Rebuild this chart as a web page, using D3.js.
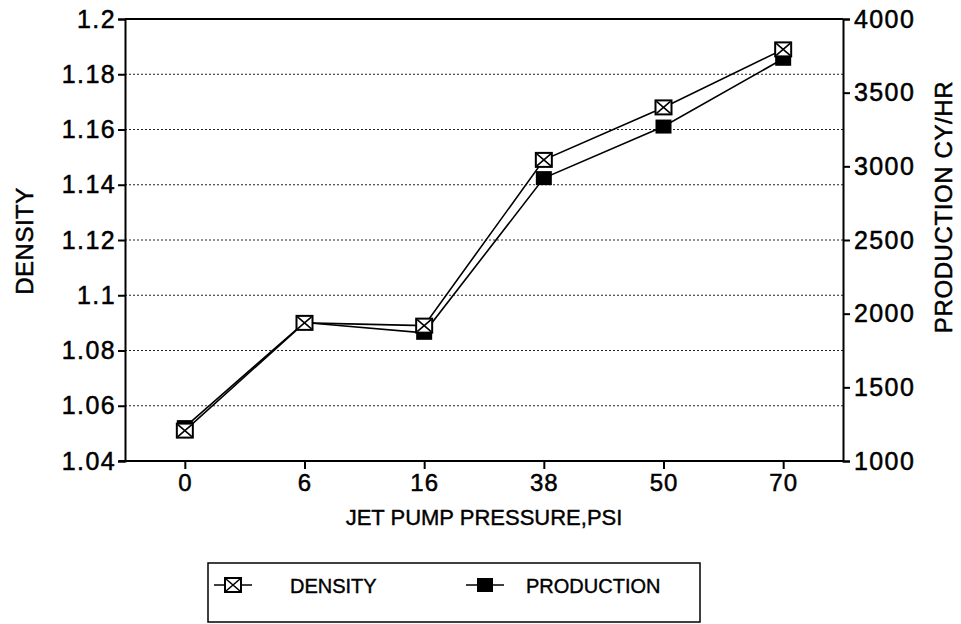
<!DOCTYPE html>
<html><head><meta charset="utf-8">
<script src="https://cdn.jsdelivr.net/npm/d3@7"></script>
<style>body{margin:0;background:#fff} text{font-family:"Liberation Sans",Arial,sans-serif;fill:#000}</style>
</head><body><svg id="c" width="961" height="624"></svg>
<script>
const categories = ["0","6","16","38","50","70"];
const density = [1.051, 1.090, 1.089, 1.149, 1.168, 1.189];
const production = [1230, 1940, 1870, 2920, 3270, 3730];
const densityTicks = [1.04,1.06,1.08,1.1,1.12,1.14,1.16,1.18,1.2];
const productionTicks = [1000,1500,2000,2500,3000,3500,4000];
const legendLabels = ["DENSITY","PRODUCTION"];

const svg = d3.select("#c");
const L=125, R=843, T=19, B=461;
const x = d3.scalePoint().domain(categories).range([L,R]).padding(0.5);
const yD = d3.scaleLinear().domain([1.04,1.2]).range([B,T]);
const yP = d3.scaleLinear().domain([1000,4000]).range([B,T]);

// gridlines
svg.append("g").selectAll("line").data(densityTicks.slice(1,-1)).join("line")
  .attr("x1",L).attr("x2",R).attr("y1",d=>yD(d)).attr("y2",d=>yD(d))
  .attr("stroke","#222").attr("stroke-width",1).attr("stroke-dasharray","2,2");
// top border
svg.append("line").attr("x1",L).attr("x2",R).attr("y1",T).attr("y2",T).attr("stroke","#000").attr("stroke-width",2);

const ax = svg.append("g").attr("transform",`translate(${L},0)`)
  .call(d3.axisLeft(yD).tickValues(densityTicks).tickFormat(d=>String(d)).tickSizeOuter(0).tickSize(7).tickPadding(2));
const ax2 = svg.append("g").attr("transform",`translate(${R},0)`)
  .call(d3.axisRight(yP).tickValues(productionTicks).tickFormat(d=>String(d)).tickSizeOuter(0).tickSize(7).tickPadding(4));
const ax3 = svg.append("g").attr("transform",`translate(0,${B})`)
  .call(d3.axisBottom(x).tickSizeOuter(0).tickSize(8).tickPadding(5));
[ax,ax2,ax3].forEach(g=>{
  g.select(".domain").attr("stroke","#000").attr("stroke-width",2);
  g.selectAll(".tick line").attr("stroke","#000").attr("stroke-width",2);
  g.selectAll("text").attr("font-size",25).attr("letter-spacing","1.4px").attr("font-family","Liberation Sans, Arial, sans-serif")
    .attr("fill","#000").attr("stroke","#000").attr("stroke-width",0.5);
});
ax3.selectAll("text").attr("font-size",24).attr("letter-spacing","1px");
ax3.select(".domain").attr("d",`M${L-6},0H${R}`);

// axis titles
svg.append("text").attr("transform",`translate(33,${241}) rotate(-90)`).attr("text-anchor","middle")
  .attr("font-size",24).attr("letter-spacing","0.5px").attr("stroke","#000").attr("stroke-width",0.5).text("DENSITY");
svg.append("text").attr("transform",`translate(952,${207}) rotate(-90)`).attr("text-anchor","middle")
  .attr("font-size",24).attr("letter-spacing","0.6px").attr("stroke","#000").attr("stroke-width",0.5).text("PRODUCTION CY/HR");
svg.append("text").attr("x",(L+R)/2).attr("y",525).attr("text-anchor","middle")
  .attr("font-size",22).attr("stroke","#000").attr("stroke-width",0.4).text("JET PUMP PRESSURE,PSI");

// lines
const lineD = d3.line().x((d,i)=>x(categories[i])).y(d=>yD(d));
const lineP = d3.line().x((d,i)=>x(categories[i])).y(d=>yP(d));
svg.append("path").attr("d",lineP(production)).attr("fill","none").attr("stroke","#000").attr("stroke-width",1.6);
svg.append("path").attr("d",lineD(density)).attr("fill","none").attr("stroke","#000").attr("stroke-width",1.6);

function filledMarker(g, cx, cy){
  g.append("rect").attr("x",cx-8).attr("y",cy-7).attr("width",16).attr("height",14).attr("fill","#000");
}
function crossMarker(g, cx, cy){
  g.append("rect").attr("x",cx-8).attr("y",cy-7).attr("width",16).attr("height",14).attr("fill","#fff").attr("stroke","#000").attr("stroke-width",2);
  g.append("path").attr("d",`M${cx-7},${cy-6}L${cx+7},${cy+6}M${cx+7},${cy-6}L${cx-7},${cy+6}`).attr("stroke","#000").attr("stroke-width",1.6);
}
const mg = svg.append("g");
production.forEach((v,i)=>filledMarker(mg, x(categories[i]), yP(v)));
density.forEach((v,i)=>crossMarker(mg, x(categories[i]), yD(v)));

// legend
const lg = svg.append("g");
lg.append("rect").attr("x",208).attr("y",563).attr("width",492).attr("height",59).attr("fill","none").attr("stroke","#000").attr("stroke-width",1.5);
const items = [{x:214, label:legendLabels[0], m:crossMarker, tx:290},{x:466, label:legendLabels[1], m:filledMarker, tx:526}];
items.forEach(it=>{
  lg.append("line").attr("x1",it.x).attr("x2",it.x+38).attr("y1",585).attr("y2",585).attr("stroke","#000").attr("stroke-width",1.6);
  it.m(lg, it.x+19, 585);
  lg.append("text").attr("x",it.tx).attr("y",593).attr("font-size",20).attr("stroke","#000").attr("stroke-width",0.4).text(it.label);
});
</script></body></html>
